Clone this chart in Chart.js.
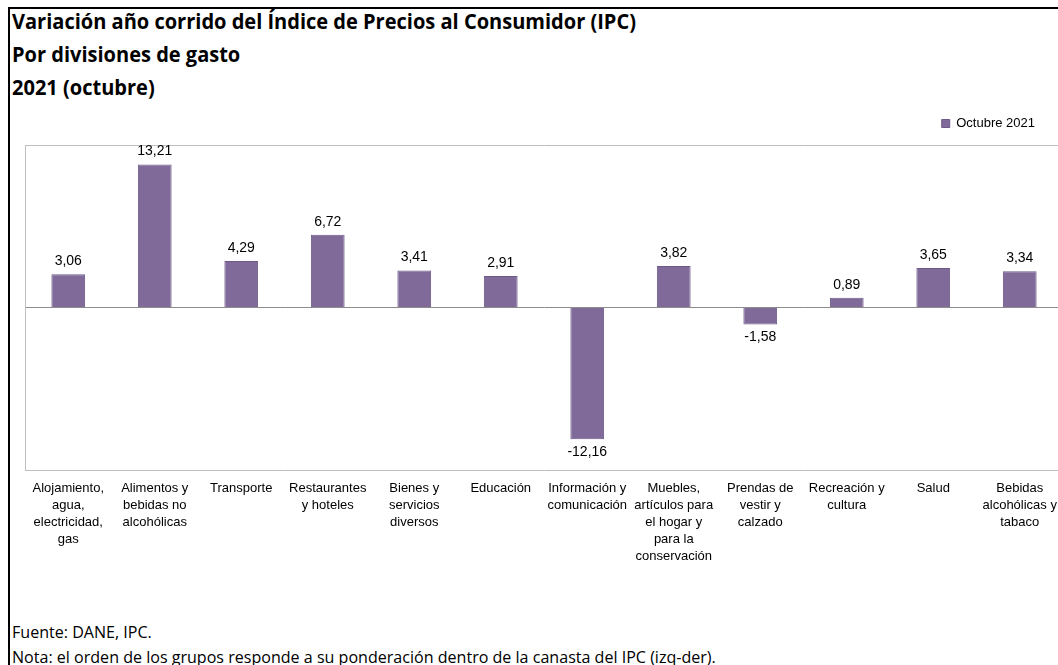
<!DOCTYPE html>
<html>
<head>
<meta charset="utf-8">
<script src="https://cdn.jsdelivr.net/npm/chart.js@4"></script>
<style>
  html, body { margin: 0; padding: 0; background: #fff; }
  body { width: 1058px; height: 665px; overflow: hidden; position: relative; }
  .frame { position: absolute; left: 8px; top: 7px; width: 1060px; height: 670px;
           border-left: 2px solid #000; border-top: 2px solid #000; }
  .title { position: absolute; left: 12px; top: 4px; font: 700 22px 'Open Sans', sans-serif;
           line-height: 33px; color: #000; transform: scaleX(0.91); transform-origin: left top;
           white-space: nowrap; }
  .foot { position: absolute; left: 12px; top: 619px; font: 400 17px 'Open Sans', sans-serif;
          line-height: 25px; color: #000; transform: scaleX(0.945); transform-origin: left top;
          white-space: nowrap; }
  .wrap { position: absolute; left: 0; top: 90px; width: 1075px; height: 480px; }
</style>
</head>
<body>
<div class="frame"></div>
<div class="title">Variación año corrido del Índice de Precios al Consumidor (IPC)<br>Por divisiones de gasto<br>2021 (octubre)</div>
<div class="wrap"><canvas id="ipcChart"></canvas></div>
<div class="foot">Fuente: DANE, IPC.<br>Nota: el orden de los grupos responde a su ponderación dentro de la canasta del IPC (izq-der).</div>
<script>
// Divisiones de gasto (orden por ponderación)
const divisiones = [
  ['Alojamiento,', 'agua,', 'electricidad,', 'gas'],
  ['Alimentos y', 'bebidas no', 'alcohólicas'],
  'Transporte',
  ['Restaurantes', 'y hoteles'],
  ['Bienes y', 'servicios', 'diversos'],
  'Educación',
  ['Información y', 'comunicación'],
  ['Muebles,', 'artículos para', 'el hogar y', 'para la', 'conservación'],
  ['Prendas de', 'vestir y', 'calzado'],
  ['Recreación y', 'cultura'],
  'Salud',
  ['Bebidas', 'alcohólicas y', 'tabaco']
];
// Variación año corrido (%)
const variacionOct2021 = [3.06, 13.21, 4.29, 6.72, 3.41, 2.91, -12.16, 3.82, -1.58, 0.89, 3.65, 3.34];
const yMin = -15;
const yMax = 15;

// value labels above / below each bar
const barLabels = {
  id: 'barLabels',
  afterLayout(chart) {
    // legend sits a bit higher above the plot in the original
    if (chart.legend) {
      chart.legend.top -= 5;
      chart.legend.bottom -= 5;
    }
  },
  afterDatasetsDraw(chart) {
    const ctx = chart.ctx;
    const meta = chart.getDatasetMeta(0);
    ctx.save();
    ctx.font = '14px "Liberation Sans", Arial, sans-serif';
    ctx.fillStyle = '#000';
    ctx.textAlign = 'center';
    meta.data.forEach((bar, i) => {
      const v = chart.data.datasets[0].data[i];
      const txt = v.toFixed(2).replace('.', ',');
      if (v >= 0) {
        ctx.textBaseline = 'bottom';
        ctx.fillText(txt, bar.x, bar.y - 6);
      } else {
        ctx.textBaseline = 'top';
        ctx.fillText(txt, bar.x, bar.y + 6);
      }
    });
    ctx.restore();
  }
};

new Chart(document.getElementById('ipcChart'), {
  type: 'bar',
  data: {
    labels: divisiones,
    datasets: [{
      label: 'Octubre 2021',
      data: variacionOct2021,
      backgroundColor: '#7f6a99',
      borderColor: '#6d5988',
      borderWidth: 1,
      categoryPercentage: 1,
      barPercentage: 0.39
    }]
  },
  options: {
    responsive: true,
    maintainAspectRatio: false,
    animation: false,
    layout: { padding: { left: 25, right: 12, top: 4, bottom: 0 } },
    plugins: {
      legend: {
        position: 'top',
        align: 'end',
        labels: {
          boxWidth: 8,
          boxHeight: 8,
          padding: 28,
          color: '#000',
          font: { family: '"Liberation Sans", Arial, sans-serif', size: 13 }
        }
      },
      tooltip: { enabled: false }
    },
    scales: {
      x: {
        grid: { display: false, drawTicks: false },
        border: { display: true, color: '#bfbfbf' },
        ticks: {
          autoSkip: false,
          maxRotation: 0,
          minRotation: 0,
          padding: 10,
          color: '#000',
          font: { family: '"Liberation Sans", Arial, sans-serif', size: 13, lineHeight: 1.3 }
        },
        afterFit(scale) { scale.height = 100; }
      },
      y: {
        min: yMin,
        max: yMax,
        ticks: { display: false, stepSize: 15 },
        grid: {
          drawTicks: false,
          color: (c) => c.tick.value === 0 ? '#8c8c8c' : (c.tick.value === yMax ? '#bfbfbf' : 'rgba(0,0,0,0)'),
          lineWidth: 1
        },
        border: { display: true, color: '#bfbfbf' },
        afterFit(scale) { scale.width = 0; }
      }
    }
  },
  plugins: [barLabels]
});
</script>
</body>
</html>
